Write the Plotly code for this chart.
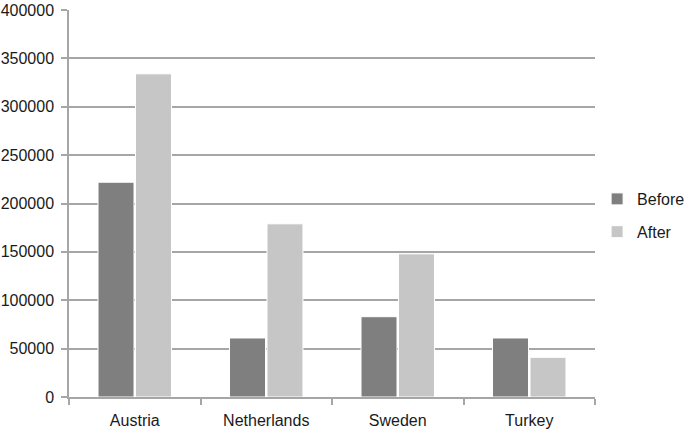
import plotly.graph_objects as go

categories = ["Austria", "Netherlands", "Sweden", "Turkey"]
before = [222000, 61000, 83000, 61000]
after = [334000, 179000, 148000, 41000]
y_ticks = [0, 50000, 100000, 150000, 200000, 250000, 300000, 350000, 400000]

font = dict(family="Liberation Sans, Arial, sans-serif", size=16, color="#1a1a1a")

fig = go.Figure()
fig.add_trace(go.Bar(x=categories, y=before, name="Before", marker=dict(color="#7f7f7f", line=dict(color="white", width=1)), legendgroup="a"))
fig.add_trace(go.Bar(x=categories, y=after, name="After", marker=dict(color="#c6c6c6", line=dict(color="white", width=1)), legendgroup="b"))

fig.update_layout(
    width=685, height=430,
    margin=dict(l=69, r=90, t=10, b=33, autoexpand=False),
    paper_bgcolor="white", plot_bgcolor="white",
    font=font,
    barmode="group", bargap=0.43, bargroupgap=0.04,
    showlegend=True,
    legend=dict(x=1.004, xanchor="left", y=0.469, yanchor="middle", tracegroupgap=9,
                font=font, bgcolor="rgba(0,0,0,0)"),
    xaxis=dict(showline=True, linecolor="#a6a6a6", linewidth=1.5,
               showgrid=False, tickfont=font, automargin=False,
               ticks="outside", ticklen=6, tickcolor="#a6a6a6", tickwidth=1.5, tickson="boundaries",
               ticklabelstandoff=8),
    yaxis=dict(range=[0, 400000], tickvals=y_ticks, ticktext=[str(v) for v in y_ticks],
               showline=True, linecolor="#a6a6a6", linewidth=1.5,
               ticks="outside", ticklen=6, tickcolor="#a6a6a6", tickwidth=1.5,
               ticklabelstandoff=4,
               showgrid=True, gridcolor="#a6a6a6", gridwidth=1.5,
               zeroline=False, tickfont=font, automargin=False),
)

fig.write_html("out.html", config={"displayModeBar": False},
               post_script="document.body.style.margin='0';document.body.style.overflow='hidden';")
